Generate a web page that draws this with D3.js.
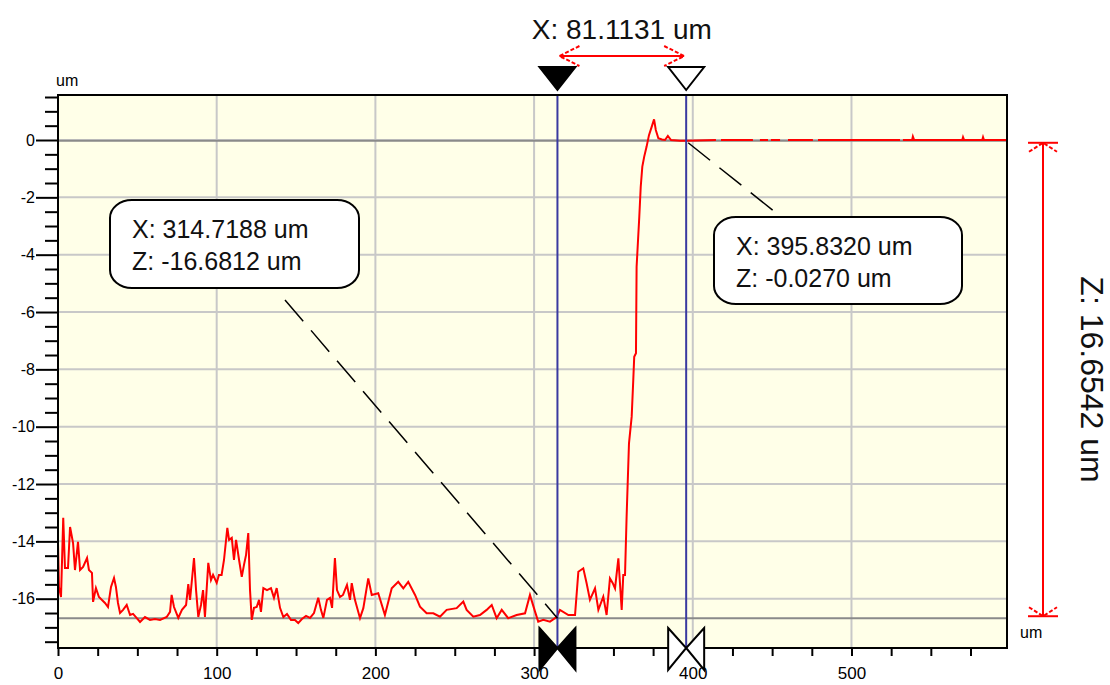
<!DOCTYPE html>
<html>
<head>
<meta charset="utf-8">
<script src="https://cdn.jsdelivr.net/npm/d3@7"></script>
<style>
  body { margin: 0; background: #ffffff; }
  svg { display: block; font-family: "Liberation Sans", Arial, sans-serif; }
</style>
</head>
<body>
<div id="chart"></div>
<script>
// profile (x in um, z in um); null = gap in the trace
var profileX = [0, 0.6, 1.9, 3.3, 4.4, 6.3, 7.6, 9.5, 10.7, 12.6, 13.9, 15.8, 18.3, 19.5, 21.4, 22.1, 23.9, 25.8, 29.6, 31.5,
    33.4, 35.3, 36.5, 37.8, 39.1, 41, 43.3, 45.4, 47.3, 49.1, 51.7, 54.8, 58, 61.1, 64.3, 68.5, 70.6, 71.6, 73.1, 75.8,
    78.1, 80.7, 82.1, 83.2, 85.7, 87, 88.4, 90.1, 91.4, 92.6, 94.7, 96.4, 97.7, 100, 101.4, 103.1, 104.6, 106.7, 107.8, 109.5,
    110.9, 112.2, 114.1, 115.8, 117.2, 118.5, 119.9, 121, 122.1, 123.5, 125.2, 126.7, 127.9, 129.4, 131.7, 134.2, 136.1, 137.8, 139.9, 142,
    144.3, 146.8, 149.3, 151.4, 153.7, 156.3, 158.8, 161.3, 164, 165.7, 167.2, 169.5, 171.4, 172.7, 174.5, 175.8, 177.7, 179.6, 182.1, 184,
    185.1, 187.1, 190.3, 192.4, 195.5, 197.7, 201.8, 206, 210.3, 214.4, 217.6, 220.7, 225, 228.1, 232.3, 236.5, 240.7, 244.9, 251.2, 255.4,
    257.5, 261.7, 265.9, 270.1, 273.3, 276.4, 279.6, 283.7, 289, 294.3, 297.4, 300.6, 302.6, 305.8, 310, 314.2, 316.3, 321.6, 325.8, 327.9,
    331, 333.1, 335.2, 338.4, 340.5, 343.6, 345.7, 347.8, 349.5, 351, 353.1, 355.2, 356.2, 357.3, 358.3, 359.8, 361.5, 362.5, 363.1, 364.2,
    364.6, 366.3, 367.2, 368.2, 369.4, 370.9, 372.4, 374.1, 375.6, 376.7, 378.3, 380.6, 382.5, 384.3, 386.3, 392, 395.8, 414.6, 416.2, 417.8,
    437.9, 440, 442.3, 447.4, 448.3, 449.2, 455, 457.5, 460, 475.7, 477.3, 478.9, 530.6, 531.5, 532.4, 538.2, 538.7, 539.5, 569.8, 570.3,
    571, 582.4, 582.9, 583.5, 597.4];
var profileZ = [-14.06, -15.59, -15.94, -13.18, -14.93, -14.93, -13.5, -14.06, -15.0, -14.02, -15.0, -14.89, -14.58, -15.0, -15.1, -16.11, -15.63, -15.94, -16.15, -16.29,
    -15.59, -15.28, -15.59, -16.15, -16.5, -16.39, -16.22, -16.57, -16.53, -16.64, -16.81, -16.64, -16.74, -16.71, -16.74, -16.64, -16.46, -15.87, -16.29, -16.67,
    -16.39, -16.22, -15.49, -16.04, -14.58, -15.7, -16.64, -16.22, -15.7, -16.64, -14.75, -15.35, -15.17, -15.45, -15.17, -15.17, -14.65, -13.53, -13.95, -13.88,
    -14.65, -13.95, -14.65, -15.24, -14.82, -14.47, -13.71, -15.7, -16.74, -16.32, -16.29, -16.04, -16.46, -15.63, -15.7, -15.63, -15.97, -15.63, -16.32, -16.64,
    -16.53, -16.74, -16.74, -16.85, -16.71, -16.6, -16.67, -16.5, -15.97, -16.39, -16.67, -16.04, -15.97, -16.32, -14.58, -15.7, -15.94, -15.87, -15.52, -16.04,
    -15.46, -16.04, -16.68, -16.33, -15.29, -15.87, -15.81, -16.57, -15.64, -15.41, -15.64, -15.41, -15.87, -16.28, -16.51, -16.51, -16.63, -16.39, -16.33, -16.1,
    -16.39, -16.63, -16.57, -16.39, -16.22, -16.68, -16.39, -16.68, -16.57, -16.51, -15.87, -16.45, -16.8, -16.74, -16.8, -16.64, -16.39, -16.57, -16.57, -15.06,
    -14.94, -15.46, -16.04, -15.64, -16.39, -15.93, -16.57, -15.29, -15.45, -15.64, -14.59, -16.39, -15.17, -15.17, -13.14, -10.58, -9.65, -8.37, -7.56, -7.44,
    -4.42, -2.67, -1.63, -0.93, -0.58, -0.23, 0.17, 0.46, 0.72, 0.35, 0.06, 0.02, 0.0, 0.14, 0.0, -0.03, -0.03, 0, null, 0,
    0, null, 0, 0, null, 0, 0, null, 0, 0, null, 0, 0, null, 0, 0, 0.12, 0, 0, 0.1,
    0, 0, 0.1, 0, 0];

var xTicks = [0, 100, 200, 300, 400, 500];
var yTicks = [0, -2, -4, -6, -8, -10, -12, -14, -16];
var xDomain = [0, 598];
var yDomain = [-17.72, 1.57];

var cursorA = { x: 314.7188, z: -16.6812 };
var cursorB = { x: 395.8320, z: -0.0270 };
var deltaX = "X: 81.1131 um";
var deltaZ = "Z: 16.6542 um";
var labelA = ["X: 314.7188 um", "Z: -16.6812 um"];
var labelB = ["X: 395.8320 um", "Z: -0.0270 um"];

var W = 1110, H = 685;
var pL = 58, pR = 1007, pT = 95, pB = 648;

var svg = d3.select("#chart").append("svg")
    .attr("width", W)
    .attr("height", H);

var x = d3.scaleLinear().domain(xDomain).range([pL, pR]);
var y = d3.scaleLinear().domain(yDomain).range([pB, pT]);

// plot background
svg.append("rect")
    .attr("x", pL).attr("y", pT)
    .attr("width", pR - pL).attr("height", pB - pT)
    .attr("fill", "#ffffe8");

// grid
svg.append("g").selectAll("line")
    .data(xTicks.filter(function(d) { return d > 0; }))
    .enter().append("line")
    .attr("x1", function(d) { return x(d); })
    .attr("x2", function(d) { return x(d); })
    .attr("y1", pT).attr("y2", pB)
    .attr("stroke", "#c8c8c8").attr("stroke-width", 2);

svg.append("g").selectAll("line")
    .data(yTicks)
    .enter().append("line")
    .attr("x1", pL).attr("x2", pR)
    .attr("y1", function(d) { return y(d); })
    .attr("y2", function(d) { return y(d); })
    .attr("stroke", "#c8c8c8").attr("stroke-width", 2);

// horizontal cursor levels
svg.append("g").selectAll("line")
    .data([cursorA, cursorB])
    .enter().append("line")
    .attr("x1", pL).attr("x2", pR)
    .attr("y1", function(d) { return y(d.z); })
    .attr("y2", function(d) { return y(d.z); })
    .attr("stroke", "#8a8a8a").attr("stroke-width", 2);

// profile
var line = d3.line()
    .defined(function(d) { return d[1] !== null; })
    .x(function(d) { return x(d[0]); })
    .y(function(d) { return y(d[1]); });

svg.append("path")
    .datum(profileX.map(function(v, i) { return [v, profileZ[i]]; }))
    .attr("d", line)
    .attr("fill", "none")
    .attr("stroke", "#ff0000")
    .attr("stroke-width", 2);

// vertical cursors
svg.append("g").selectAll("line")
    .data([cursorA, cursorB])
    .enter().append("line")
    .attr("x1", function(d) { return x(d.x); })
    .attr("x2", function(d) { return x(d.x); })
    .attr("y1", pT).attr("y2", pB)
    .attr("stroke", "#3a3aa0").attr("stroke-width", 2);

// frame
svg.append("rect")
    .attr("x", pL).attr("y", pT)
    .attr("width", pR - pL).attr("height", pB - pT)
    .attr("fill", "none")
    .attr("stroke", "#000").attr("stroke-width", 2);

// y axis ticks
var yAxis = d3.axisLeft(y)
    .tickValues(d3.range(-17.5, 1.51, 0.5))
    .tickSize(13)
    .tickFormat(function(d) { return yTicks.indexOf(d) >= 0 ? d : ""; });
var gy = svg.append("g").attr("transform", "translate(" + pL + ",0)").call(yAxis);
gy.select(".domain").remove();
gy.selectAll(".tick line").attr("stroke", "#000").attr("stroke-width", 2)
    .attr("x2", function(d) { return yTicks.indexOf(d) >= 0 ? -22 : -13; });
gy.selectAll(".tick text")
    .attr("x", -23)
    .attr("font-size", 16)
    .attr("font-family", "Liberation Sans, Arial, sans-serif")
    .attr("fill", "#000");

// x axis ticks
var xAxis = d3.axisBottom(x)
    .tickValues(d3.range(0, 598, 25))
    .tickSize(8)
    .tickFormat(function(d) { return xTicks.indexOf(d) >= 0 ? d : ""; });
var gx = svg.append("g").attr("transform", "translate(0," + pB + ")").call(xAxis);
gx.select(".domain").remove();
gx.selectAll(".tick line").attr("stroke", "#000").attr("stroke-width", 2);
gx.selectAll(".tick text")
    .attr("y", 19)
    .attr("font-size", 17)
    .attr("font-family", "Liberation Sans, Arial, sans-serif")
    .attr("fill", "#000");

// units
svg.append("text").attr("x", 56).attr("y", 86).attr("font-size", 16).text("um");
svg.append("text").attr("x", 1020).attr("y", 638).attr("font-size", 16).text("um");

// top cursor markers
var triTop = 67, triTip = 90, half = 18;
svg.selectAll(".tmark")
    .data([cursorA, cursorB])
    .enter().append("path")
    .attr("class", "tmark")
    .attr("d", function(d) {
        var cx = x(d.x);
        return "M" + (cx - half) + "," + triTop + "L" + (cx + half) + "," + triTop + "L" + cx + "," + triTip + "Z";
    })
    .attr("fill", function(d, i) { return i === 0 ? "#000" : "#fff"; })
    .attr("stroke", "#000").attr("stroke-width", 2);

// bottom bowtie markers
svg.selectAll(".bmark")
    .data([cursorA, cursorB])
    .enter().append("path")
    .attr("class", "bmark")
    .attr("d", function(d) {
        var cx = x(d.x);
        return "M" + (cx - half) + ",628L" + cx + "," + pB + "L" + (cx - half) + ",670Z" +
               "M" + (cx + half) + ",628L" + cx + "," + pB + "L" + (cx + half) + ",670Z";
    })
    .attr("fill", function(d, i) { return i === 0 ? "#000" : "#fff"; })
    .attr("stroke", "#000").attr("stroke-width", 2);

// X dimension
var xa = x(cursorA.x) + 2, xb = x(cursorB.x) - 2, ya = 56;
var red = "#ff0000";
var dimX = svg.append("g").attr("stroke", red).attr("stroke-width", 2).attr("fill", "none");
dimX.append("line").attr("x1", xa).attr("x2", xb).attr("y1", ya).attr("y2", ya);
dimX.append("path").attr("d", "M" + (xa + 20) + "," + (ya - 10) + "L" + xa + "," + ya + "L" + (xa + 20) + "," + (ya + 10))
    .attr("stroke-dasharray", "4,2");
dimX.append("path").attr("d", "M" + (xb - 20) + "," + (ya - 10) + "L" + xb + "," + ya + "L" + (xb - 20) + "," + (ya + 10))
    .attr("stroke-dasharray", "4,2");
svg.append("text")
    .attr("x", (xa + xb) / 2).attr("y", 39)
    .attr("text-anchor", "middle")
    .attr("font-size", 28)
    .attr("fill", "#111")
    .text(deltaX);

// Z dimension
var zx = 1043, za = y(cursorB.z) + 2, zb = y(cursorA.z) - 2;
var dimZ = svg.append("g").attr("stroke", red).attr("stroke-width", 2).attr("fill", "none");
dimZ.append("line").attr("x1", zx).attr("x2", zx).attr("y1", za).attr("y2", zb);
dimZ.append("line").attr("x1", zx - 15).attr("x2", zx + 15).attr("y1", za).attr("y2", za);
dimZ.append("line").attr("x1", zx - 15).attr("x2", zx + 15).attr("y1", zb).attr("y2", zb);
dimZ.append("path").attr("d", "M" + (zx - 14) + "," + (za + 9) + "L" + zx + "," + za + "L" + (zx + 14) + "," + (za + 9))
    .attr("stroke-dasharray", "4,2");
dimZ.append("path").attr("d", "M" + (zx - 14) + "," + (zb - 9) + "L" + zx + "," + zb + "L" + (zx + 14) + "," + (zb - 9))
    .attr("stroke-dasharray", "4,2");
svg.append("text")
    .attr("transform", "translate(1081," + ((za + zb) / 2) + ") rotate(90)")
    .attr("text-anchor", "middle")
    .attr("font-size", 32)
    .attr("fill", "#111")
    .text(deltaZ);

// leader lines
svg.append("line")
    .attr("x1", 285).attr("y1", 300)
    .attr("x2", x(cursorA.x)).attr("y2", y(cursorA.z))
    .attr("stroke", "#000").attr("stroke-width", 1.5)
    .attr("stroke-dasharray", "28,12");
svg.append("line")
    .attr("x1", x(cursorB.x) + 2).attr("y1", y(cursorB.z) + 2)
    .attr("x2", 780).attr("y2", 216)
    .attr("stroke", "#000").attr("stroke-width", 1.5)
    .attr("stroke-dasharray", "28,12");

// callout boxes
function callout(bx, by, bw, bh, lines) {
    var g = svg.append("g");
    g.append("rect")
        .attr("x", bx).attr("y", by)
        .attr("width", bw).attr("height", bh)
        .attr("rx", 22).attr("ry", 18)
        .attr("fill", "#fff")
        .attr("stroke", "#000").attr("stroke-width", 2);
    g.selectAll("text")
        .data(lines)
        .enter().append("text")
        .attr("x", bx + 22)
        .attr("y", function(d, i) { return by + 38 + i * 32; })
        .attr("font-size", 25)
        .attr("fill", "#111")
        .text(function(d) { return d; });
}
callout(110, 200, 249, 88, labelA);
callout(714, 217, 248, 87, labelB);
</script>
</body>
</html>
